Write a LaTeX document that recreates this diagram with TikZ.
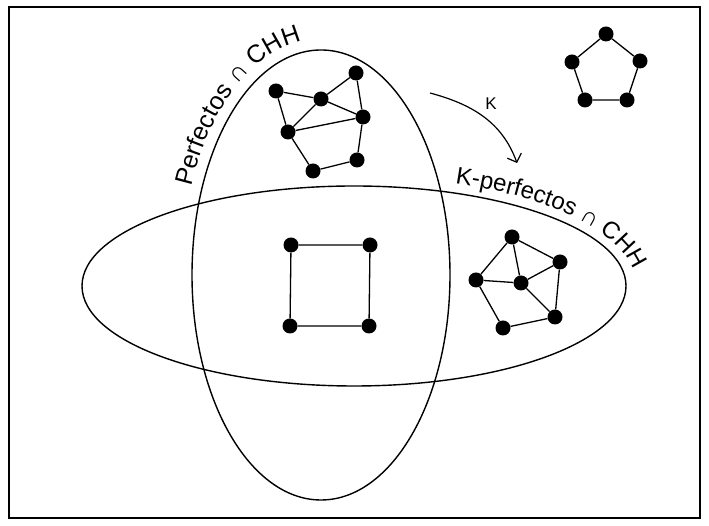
\documentclass[tikz,border=0pt]{standalone}
\usepackage{fontspec}
\setmainfont{Liberation Sans}
\usetikzlibrary{decorations.text,arrows.meta}
\begin{document}
\begin{tikzpicture}[x=1pt,y=1pt,
  dot/.style={circle,fill=black,inner sep=0pt,minimum size=15pt},
  edge/.style={line width=1.3pt},
  setline/.style={line width=1.4pt},
  lbl/.style={font=\fontsize{17}{20}\selectfont}]
\useasboundingbox (0,0) rectangle (709,526);
\draw[line width=1.5pt] (9,8) rectangle (700,519);
% sets
\draw[setline] (321,251) ellipse[x radius=129, y radius=225];
\draw[setline] (354,240) ellipse[x radius=272, y radius=100];
\path[decorate,decoration={text along path,text align=left,
  text={|\fontsize{25}{30}\selectfont|Perfectos ∩ CHH}}]
  (191.2,339.4) arc[start angle=158,end angle=70,x radius=140,y radius=236];
\path[decorate,decoration={text along path,text align=left,
  text={|\fontsize{24}{29}\selectfont|K-perfectos ∩ CHH}}]
  (455.1,342.7) arc[start angle=69,end angle=-10,x radius=282,y radius=110];
% top-right pentagon
\node[dot] (pa) at (606,492) {};
\node[dot] (pb) at (572,464) {};
\node[dot] (pc) at (640,465) {};
\node[dot] (pd) at (585,426) {};
\node[dot] (pe) at (627,426) {};
\draw[edge] (pa)--(pb) (pa)--(pc) (pb)--(pd) (pc)--(pe) (pd)--(pe);
% top graph
\node[dot] (A) at (276,435) {};
\node[dot] (B) at (321,427) {};
\node[dot] (C) at (356,453) {};
\node[dot] (D) at (363,409) {};
\node[dot] (E) at (288,394) {};
\node[dot] (F) at (357,366) {};
\node[dot] (G) at (313,355) {};
\draw[edge] (A)--(B) (B)--(C) (C)--(D) (B)--(D) (A)--(E) (B)--(E)
  (E)--(D) (E)--(G) (G)--(F) (F)--(D);
% square
\node[dot] (s1) at (291,281) {};
\node[dot] (s2) at (370,281) {};
\node[dot] (s3) at (290,200) {};
\node[dot] (s4) at (369,200) {};
\draw[edge] (s1)--(s2) (s2)--(s4) (s4)--(s3) (s3)--(s1);
% bottom-right graph
\node[dot] (P) at (512,289) {};
\node[dot] (Q) at (560,264) {};
\node[dot] (R) at (476,246) {};
\node[dot] (S) at (521,243) {};
\node[dot] (T) at (555,209) {};
\node[dot] (U) at (503,198) {};
\draw[edge] (P)--(Q) (P)--(R) (P)--(S) (Q)--(S) (Q)--(T) (R)--(S)
  (S)--(T) (R)--(U) (U)--(T);
% arrow K
\coordinate (ka) at (430,433);
\coordinate (kb) at (517,363);
\draw[line width=1.2pt,-{Straight Barb[length=7pt,width=15pt]}]
  (ka) to[out=-15,in=110] (kb);
\node[lbl] (klbl) at (491,422) {K};
\end{tikzpicture}
\end{document}
